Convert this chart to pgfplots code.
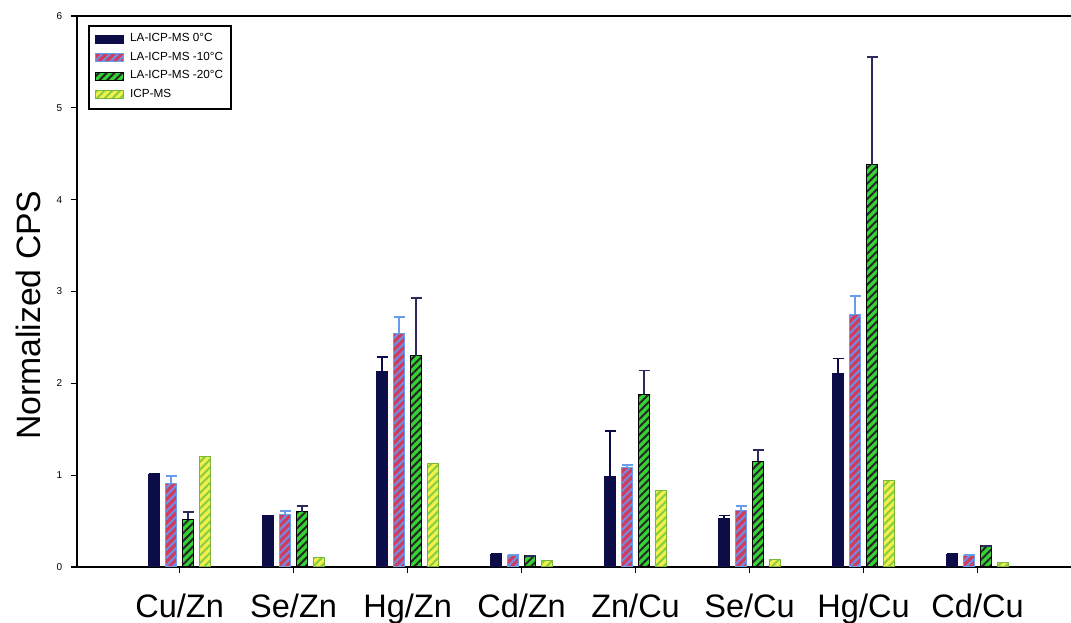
\documentclass[border=0pt]{standalone}
\usepackage{fontspec}
\setmainfont{Liberation Sans}
\usepackage{pgfplots}
\usepackage{pgfplotstable}
\pgfplotsset{compat=1.18}
\usetikzlibrary{patterns.meta}
\definecolor{navybar}{HTML}{0C0C48}
\definecolor{redbar}{HTML}{D23C5C}
\definecolor{bluestripe}{HTML}{6F8FE6}
\definecolor{blueedge}{HTML}{6A9CEC}
\definecolor{greenbar}{HTML}{35D235}
\definecolor{yellowbar}{HTML}{F2F04A}
\definecolor{yellowstripe}{HTML}{86CC44}
\definecolor{erravy}{HTML}{2A2A5C}

\pgfplotstableread{
x y e
0 1.01 0.0
1 0.56 0.0
2 2.13 0.16
3 0.14 0.0
4 0.98 0.50
5 0.53 0.03
6 2.11 0.16
7 0.14 0.0
}\dataA
\pgfplotstableread{
x y e
0 0.91 0.08
1 0.57 0.04
2 2.54 0.18
3 0.12 0.01
4 1.08 0.03
5 0.62 0.04
6 2.75 0.20
7 0.12 0.01
}\dataB
\pgfplotstableread{
x y e
0 0.52 0.08
1 0.60 0.06
2 2.30 0.63
3 0.12 0.0
4 1.88 0.26
5 1.15 0.12
6 4.38 1.17
7 0.23 0.0
}\dataC
\pgfplotstableread{
x y
0 1.20
1 0.105
2 1.13
3 0.07
4 0.83
5 0.08
6 0.94
7 0.05
}\dataD

\begin{document}
\begin{tikzpicture}
\begin{axis}[
  scale only axis, width=397.6pt, height=220.4pt,
  ybar=2.2pt, bar width=4.6pt,
  xmin=-0.9, xmax=7.82, ymin=0, ymax=6,
  axis x line*=box, axis y line*=left,
  axis line style={line width=0.9pt},
  xtick={0,...,7},
  xticklabels={Cu/Zn,Se/Zn,Hg/Zn,Cd/Zn,Zn/Cu,Se/Cu,Hg/Cu,Cd/Cu},
  xtick pos=bottom, ytick pos=left,
  tick align=outside, major tick length=2.4pt,
  tick style={line width=0.5pt, black},
  ytick={0,...,6},
  /pgf/number format/assume math mode=true,
  x tick label style={font=\fontsize{13}{15}\selectfont, yshift=-5pt},
  y tick label style={font=\fontsize{4}{5}\selectfont},
  ylabel={Normalized CPS},
  y label style={at={(axis description cs:-0.0493,0.457)}, anchor=center, font=\fontsize{13.5}{15}\selectfont},
  legend style={at={(0.011,0.984)}, anchor=north west, draw=black, line width=0.8pt,
    font=\fontsize{4.7}{5.5}\selectfont, row sep=1.4pt, column sep=2pt,
    inner xsep=2.5pt, inner ysep=2.5pt,
    nodes={inner sep=0.6pt}},
  legend cell align=left,
  legend image code/.code={\draw[#1, line width=0.4pt] (0pt,-1.6pt) rectangle (11pt,1.6pt);},
  error bars/y dir=plus, error bars/y explicit,
]
\addplot[fill=navybar, draw=navybar,
  error bars/error bar style={line width=0.7pt, navybar},
  error bars/error mark options={rotate=90, line width=0.7pt, mark size=2.2pt, navybar}]
  table[x=x, y=y, y error=e] {\dataA};
\addplot[fill=redbar, draw=blueedge,
  postaction={pattern={Lines[angle=45,distance=2.2pt,line width=0.8pt]}, pattern color=bluestripe},
  error bars/error bar style={line width=0.7pt, blueedge},
  error bars/error mark options={rotate=90, line width=0.7pt, mark size=2.2pt, blueedge}]
  table[x=x, y=y, y error=e] {\dataB};
\addplot[fill=greenbar, draw=black,
  postaction={pattern={Lines[angle=45,distance=2.2pt,line width=0.8pt]}, pattern color=black!85},
  error bars/error bar style={line width=0.7pt, erravy},
  error bars/error mark options={rotate=90, line width=0.7pt, mark size=2.2pt, erravy}]
  table[x=x, y=y, y error=e] {\dataC};
\addplot[fill=yellowbar, draw=yellowstripe!90!black,
  postaction={pattern={Lines[angle=45,distance=2.2pt,line width=0.8pt]}, pattern color=yellowstripe},
  error bars/y dir=none]
  table[x=x, y=y] {\dataD};
\legend{LA-ICP-MS 0°C, LA-ICP-MS -10°C, LA-ICP-MS -20°C, ICP-MS}
\end{axis}
\pgfresetboundingbox
\path[use as bounding box] ([xshift=-30.8pt,yshift=-22.4pt]current axis.south west) rectangle ([yshift=6.4pt]current axis.north east);
\end{tikzpicture}
\end{document}
